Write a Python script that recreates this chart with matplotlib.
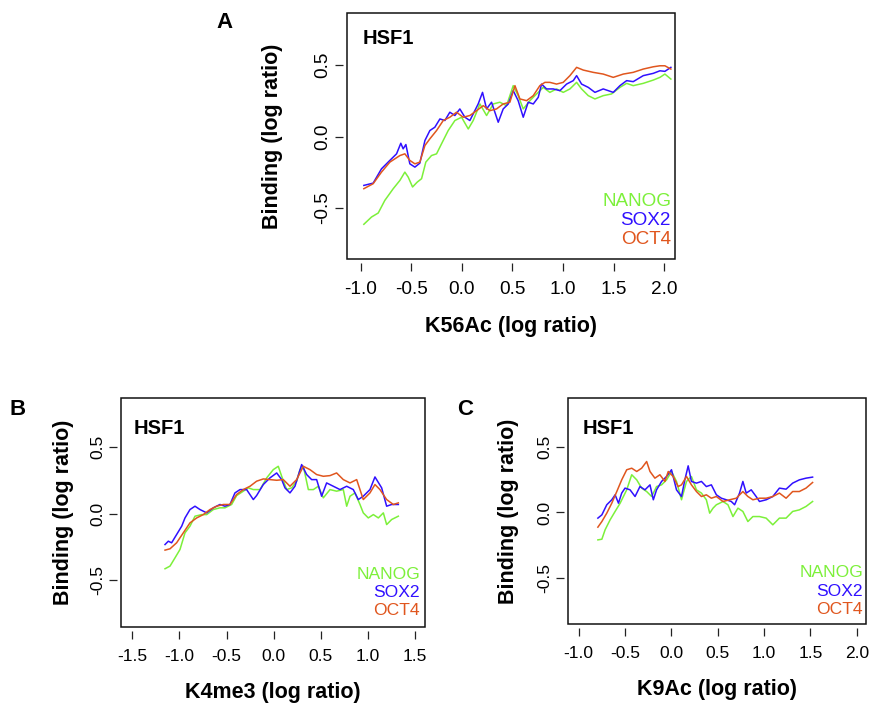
import matplotlib
matplotlib.use("Agg")
import matplotlib.pyplot as plt
from matplotlib.patches import Rectangle

plt.rcParams['font.family'] = ['Liberation Sans', 'DejaVu Sans']
plt.rcParams['axes.unicode_minus'] = False

GREEN = '#7CF03A'
BLUE = '#3010FF'
ORANGE = '#E0561E'

# ---- panel A : K56Ac ----
a_oct4_x = [-0.967, -0.875, -0.793, -0.710, -0.611, -0.562, -0.513, -0.463, -0.414, -0.364, -0.315, -0.249,
            -0.183, -0.118, -0.052, 0.014, 0.080, 0.146, 0.212, 0.278, 0.343, 0.409, 0.475, 0.525, 0.574, 0.640,
            0.706, 0.771, 0.821, 0.870, 0.936, 1.002, 1.068, 1.134, 1.200, 1.298, 1.397, 1.496, 1.595, 1.693,
            1.792, 1.891, 1.957, 2.006, 2.065]
a_oct4_y = [-0.365, -0.330, -0.249, -0.179, -0.133, -0.121, -0.167, -0.191, -0.179, -0.063, -0.016, 0.042,
            0.112, 0.135, 0.170, 0.135, 0.147, 0.181, 0.216, 0.181, 0.193, 0.228, 0.240, 0.356, 0.263, 0.251,
            0.286, 0.356, 0.379, 0.379, 0.367, 0.379, 0.426, 0.484, 0.465, 0.449, 0.437, 0.414, 0.437, 0.449,
            0.472, 0.488, 0.495, 0.495, 0.472]
a_sox2_x = [-0.967, -0.875, -0.793, -0.710, -0.644, -0.602, -0.579, -0.552, -0.513, -0.463, -0.414, -0.364,
            -0.315, -0.266, -0.216, -0.167, -0.118, -0.068, -0.019, 0.031, 0.080, 0.129, 0.162, 0.205, 0.245,
            0.294, 0.360, 0.409, 0.459, 0.508, 0.557, 0.607, 0.656, 0.706, 0.755, 0.788, 0.837, 0.903, 0.969,
            1.035, 1.101, 1.134, 1.183, 1.249, 1.315, 1.397, 1.496, 1.562, 1.628, 1.693, 1.792, 1.891, 1.957,
            2.006, 2.065]
a_sox2_y = [-0.342, -0.326, -0.226, -0.167, -0.121, -0.047, -0.086, -0.056, -0.191, -0.214, -0.186, -0.028,
            0.042, 0.065, 0.123, 0.112, 0.170, 0.147, 0.193, 0.135, 0.112, 0.181, 0.228, 0.309, 0.193, 0.240,
            0.100, 0.193, 0.228, 0.321, 0.251, 0.135, 0.240, 0.228, 0.274, 0.367, 0.333, 0.333, 0.321, 0.367,
            0.391, 0.426, 0.367, 0.344, 0.309, 0.333, 0.309, 0.356, 0.391, 0.384, 0.426, 0.442, 0.460, 0.456,
            0.484]
a_nanog_x = [-0.967, -0.891, -0.825, -0.760, -0.677, -0.611, -0.562, -0.529, -0.486, -0.440, -0.397, -0.355,
             -0.299, -0.249, -0.200, -0.134, -0.068, -0.002, 0.064, 0.113, 0.179, 0.245, 0.311, 0.376, 0.442,
             0.508, 0.557, 0.607, 0.673, 0.739, 0.804, 0.870, 0.936, 1.002, 1.068, 1.134, 1.183, 1.249, 1.315,
             1.397, 1.479, 1.562, 1.628, 1.693, 1.792, 1.891, 1.957, 2.006, 2.065]
a_nanog_y = [-0.614, -0.563, -0.535, -0.447, -0.365, -0.307, -0.249, -0.284, -0.353, -0.319, -0.295, -0.179,
             -0.133, -0.121, -0.051, 0.042, 0.112, 0.135, 0.053, 0.112, 0.228, 0.147, 0.228, 0.240, 0.216,
             0.356, 0.286, 0.193, 0.251, 0.298, 0.344, 0.309, 0.333, 0.309, 0.333, 0.379, 0.333, 0.286, 0.263,
             0.286, 0.298, 0.344, 0.372, 0.356, 0.372, 0.395, 0.414, 0.437, 0.402]

# ---- panel B : K4me3 ----
b_oct4_x = [-1.153, -1.100, -1.030, -0.959, -0.888, -0.817, -0.747, -0.676, -0.605, -0.534, -0.464, -0.393,
            -0.322, -0.251, -0.181, -0.110, -0.039, 0.032, 0.102, 0.173, 0.244, 0.315, 0.385, 0.456, 0.527,
            0.598, 0.668, 0.739, 0.810, 0.881, 0.951, 1.022, 1.075, 1.128, 1.199, 1.270, 1.323]
b_oct4_y = [-0.275, -0.265, -0.220, -0.145, -0.070, -0.033, -0.008, 0.030, 0.055, 0.068, 0.068, 0.143,
            0.180, 0.205, 0.243, 0.260, 0.255, 0.250, 0.255, 0.205, 0.255, 0.355, 0.330, 0.293, 0.280,
            0.285, 0.305, 0.255, 0.230, 0.255, 0.105, 0.155, 0.218, 0.180, 0.105, 0.068, 0.080]
b_sox2_x = [-1.153, -1.118, -1.083, -1.030, -0.976, -0.941, -0.888, -0.835, -0.782, -0.711, -0.640, -0.570,
            -0.517, -0.464, -0.411, -0.357, -0.287, -0.216, -0.181, -0.110, -0.039, 0.032, 0.085, 0.120,
            0.173, 0.226, 0.297, 0.350, 0.403, 0.456, 0.509, 0.562, 0.633, 0.704, 0.775, 0.845, 0.898, 0.951,
            1.022, 1.075, 1.146, 1.199, 1.252, 1.323]
b_sox2_y = [-0.233, -0.208, -0.220, -0.158, -0.095, -0.033, 0.030, 0.055, 0.030, 0.005, 0.043, 0.068,
            0.055, 0.068, 0.155, 0.180, 0.180, 0.105, 0.135, 0.218, 0.268, 0.305, 0.255, 0.193, 0.155, 0.205,
            0.368, 0.293, 0.255, 0.255, 0.130, 0.230, 0.205, 0.180, 0.205, 0.180, 0.105, 0.130, 0.180, 0.275,
            0.193, 0.055, 0.068, 0.068]
b_nanog_x = [-1.153, -1.100, -1.047, -0.994, -0.941, -0.888, -0.835, -0.764, -0.711, -0.640, -0.570, -0.517,
             -0.446, -0.393, -0.322, -0.269, -0.216, -0.145, -0.074, -0.004, 0.049, 0.085, 0.138, 0.191, 0.244,
             0.279, 0.315, 0.368, 0.421, 0.474, 0.527, 0.598, 0.668, 0.739, 0.775, 0.810, 0.863, 0.916, 0.951,
             1.004, 1.058, 1.111, 1.164, 1.199, 1.252, 1.323]
b_nanog_y = [-0.415, -0.395, -0.333, -0.270, -0.145, -0.095, -0.020, -0.008, -0.008, 0.030, 0.043, 0.043,
             0.068, 0.135, 0.168, 0.193, 0.180, 0.180, 0.268, 0.330, 0.355, 0.280, 0.180, 0.193, 0.243, 0.330,
             0.355, 0.180, 0.180, 0.205, 0.118, 0.180, 0.168, 0.180, 0.055, 0.130, 0.155, 0.068, 0.005, -0.033,
             -0.008, -0.033, 0.005, -0.083, -0.045, -0.020]

# ---- panel C : K9Ac ----
c_oct4_x = [-0.792, -0.749, -0.696, -0.642, -0.588, -0.535, -0.481, -0.427, -0.373, -0.320, -0.266, -0.230,
            -0.177, -0.123, -0.069, -0.033, 0.020, 0.074, 0.110, 0.164, 0.217, 0.271, 0.325, 0.378, 0.432,
            0.486, 0.557, 0.629, 0.701, 0.772, 0.826, 0.880, 0.951, 1.023, 1.095, 1.166, 1.238, 1.309, 1.381,
            1.453, 1.524]
c_oct4_y = [-0.112, -0.069, -0.005, 0.071, 0.160, 0.249, 0.326, 0.338, 0.313, 0.338, 0.389, 0.313, 0.262,
            0.288, 0.237, 0.313, 0.275, 0.198, 0.211, 0.275, 0.211, 0.160, 0.122, 0.135, 0.109, 0.122, 0.084,
            0.097, 0.109, 0.160, 0.122, 0.097, 0.109, 0.109, 0.122, 0.148, 0.109, 0.160, 0.160, 0.186, 0.229]
c_sox2_x = [-0.792, -0.749, -0.696, -0.642, -0.606, -0.570, -0.535, -0.499, -0.445, -0.391, -0.338, -0.284,
            -0.230, -0.194, -0.159, -0.105, -0.051, 0.002, 0.056, 0.110, 0.146, 0.182, 0.217, 0.271, 0.325,
            0.378, 0.432, 0.486, 0.540, 0.593, 0.647, 0.683, 0.736, 0.772, 0.808, 0.862, 0.915, 0.951, 1.023,
            1.095, 1.166, 1.238, 1.309, 1.381, 1.453, 1.524]
c_sox2_y = [-0.043, -0.018, 0.059, 0.097, 0.135, 0.071, 0.148, 0.186, 0.173, 0.122, 0.198, 0.173, 0.211,
            0.097, 0.173, 0.237, 0.275, 0.326, 0.173, 0.122, 0.249, 0.356, 0.237, 0.224, 0.237, 0.198, 0.211,
            0.135, 0.109, 0.097, 0.084, 0.059, 0.148, 0.237, 0.148, 0.173, 0.122, 0.084, 0.097, 0.122, 0.186,
            0.178, 0.224, 0.249, 0.262, 0.270]
c_nanog_x = [-0.792, -0.749, -0.714, -0.660, -0.606, -0.552, -0.481, -0.427, -0.373, -0.320, -0.266, -0.212,
             -0.159, -0.105, -0.051, 0.002, 0.056, 0.110, 0.164, 0.217, 0.271, 0.325, 0.378, 0.414, 0.450,
             0.486, 0.522, 0.557, 0.611, 0.665, 0.719, 0.772, 0.826, 0.880, 0.951, 1.023, 1.095, 1.130, 1.166,
             1.238, 1.309, 1.381, 1.453, 1.524]
c_nanog_y = [-0.209, -0.204, -0.132, -0.056, 0.008, 0.071, 0.173, 0.288, 0.249, 0.186, 0.160, 0.122, 0.198,
             0.211, 0.249, 0.313, 0.237, 0.097, 0.237, 0.275, 0.173, 0.148, 0.097, -0.005, 0.033, 0.059, 0.071,
             0.084, 0.059, -0.031, 0.033, 0.008, -0.069, -0.031, -0.031, -0.043, -0.094, -0.069, -0.043,
             -0.043, 0.008, 0.020, 0.046, 0.084]

series_names = ['NANOG', 'SOX2', 'OCT4']
series_colors = [GREEN, BLUE, ORANGE]
yticks = [-0.5, 0.0, 0.5]

fig = plt.figure(figsize=(8.7, 7.05), dpi=100)


def panel(rect, letter, letter_xy, curves, xticks, xlim, ylim, xlabel, tick_fs, leg_fs, ylab_off,
          hsf_xy, leg_xy):
    ax = fig.add_axes(rect)
    # draw OCT4 underneath? order in figure: nanog, sox2, oct4 on top
    for (x, y), c in zip(curves, series_colors):
        ax.plot(x, y, color=c, lw=1.1)
    ax.set_xlim(xlim)
    ax.set_ylim(ylim)
    for s in ax.spines.values():
        s.set_visible(False)
    ax.spines['bottom'].set_position(('outward', 3))
    ax.spines['left'].set_position(('outward', 3))
    ax.add_patch(Rectangle((0, 0), 1, 1, transform=ax.transAxes, fill=False, lw=1.1,
                           edgecolor='#111111', clip_on=False))
    ax.set_xticks(xticks)
    ax.set_xticklabels([f'{v:.1f}' for v in xticks])
    ax.set_yticks(yticks)
    ax.set_yticklabels([f'{v:.1f}' for v in yticks])
    ax.tick_params(direction='out', length=5.5, width=0.9, labelsize=tick_fs, color='#222222')
    ax.tick_params(axis='x', pad=7)
    ax.tick_params(axis='y', pad=3)
    plt.setp(ax.get_yticklabels(), rotation=90, va='center')
    ax.set_xlabel(xlabel, fontsize=15.5, fontweight='bold', labelpad=13)
    ax.text(ylab_off, 0.5, 'Binding (log ratio)', transform=ax.transAxes, rotation=90,
            ha='center', va='center', fontsize=15.5, fontweight='bold')
    ax.text(hsf_xy[0], hsf_xy[1], 'HSF1', transform=ax.transAxes, ha='left', va='center',
            fontsize=14.5, fontweight='bold')
    for i, (name, c) in enumerate(zip(series_names, series_colors)):
        ax.text(leg_xy[0], leg_xy[1] - i * leg_xy[2], name, transform=ax.transAxes, ha='right',
                va='center', fontsize=leg_fs, color=c)
    fig.text(letter_xy[0] / 870, 1 - letter_xy[1] / 705, letter, ha='center', va='center',
             fontsize=16, fontweight='bold')
    return ax


panel([0.3989, 0.6326, 0.3770, 0.3489], 'A', (225, 22),
      [(a_nanog_x, a_nanog_y), (a_sox2_x, a_sox2_y), (a_oct4_x, a_oct4_y)],
      [-1.0, -0.5, 0.0, 0.5, 1.0, 1.5, 2.0], (-1.133, 2.106), (-0.857, 0.864),
      'K56Ac (log ratio)', 13.7, 13.6, -0.226, (0.046, 0.898), (0.988, 0.232, 0.077))

panel([0.1391, 0.1106, 0.3494, 0.3248], 'B', (18, 410),
      [(b_nanog_x, b_nanog_y), (b_sox2_x, b_sox2_y), (b_oct4_x, b_oct4_y)],
      [-1.5, -1.0, -0.5, 0.0, 0.5, 1.0, 1.5], (-1.62, 1.606), (-0.853, 0.868),
      'K4me3 (log ratio)', 12.5, 12.6, -0.19, (0.04, 0.869), (0.984, 0.231, 0.08))

panel([0.6529, 0.1149, 0.3425, 0.3206], 'C', (465, 410),
      [(c_nanog_x, c_nanog_y), (c_sox2_x, c_sox2_y), (c_oct4_x, c_oct4_y)],
      [-1.0, -0.5, 0.0, 0.5, 1.0, 1.5, 2.0], (-1.114, 2.10), (-0.851, 0.874),
      'K9Ac (log ratio)', 12.5, 12.6, -0.20, (0.05, 0.867), (0.99, 0.226, 0.082))

fig.savefig('out.png', dpi=100)
